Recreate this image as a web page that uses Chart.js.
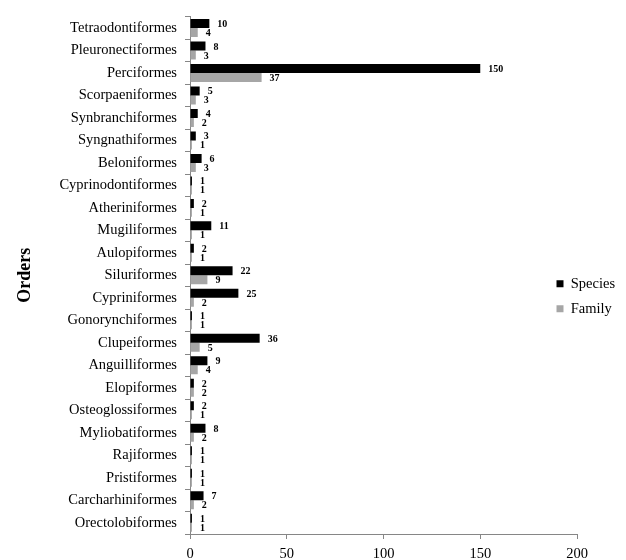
<!DOCTYPE html>
<html>
<head>
<meta charset="utf-8">
<script src="https://cdn.jsdelivr.net/npm/chart.js@4"></script>
<style>
  body { margin: 0; background: #fff; }
  #wrap { width: 626px; height: 560px; }
</style>
</head>
<body>
<div id="wrap"><canvas id="ordersChart"></canvas></div>
<script>
const orders = [
  "Tetraodontiformes", "Pleuronectiformes", "Perciformes", "Scorpaeniformes",
  "Synbranchiformes", "Syngnathiformes", "Beloniformes", "Cyprinodontiformes",
  "Atheriniformes", "Mugiliformes", "Aulopiformes", "Siluriformes",
  "Cypriniformes", "Gonorynchiformes", "Clupeiformes", "Anguilliformes",
  "Elopiformes", "Osteoglossiformes", "Myliobatiformes", "Rajiformes",
  "Pristiformes", "Carcharhiniformes", "Orectolobiformes",
];
const species = [10, 8, 150, 5, 4, 3, 6, 1, 2, 11, 2, 22, 25, 1, 36, 9, 2, 2, 8, 1, 1, 7, 1];
const family = [4, 3, 37, 3, 2, 1, 3, 1, 1, 1, 1, 9, 2, 1, 5, 4, 2, 1, 2, 1, 1, 2, 1];
const xTicks = [0, 50, 100, 150, 200];

const serif = "'Liberation Serif', 'Times New Roman', serif";
const axisGrey = "#868686";

// value labels at the end of each bar
const barLabels = {
  id: "barLabels",
  afterDatasetsDraw(chart) {
    const ctx = chart.ctx;
    ctx.save();
    ctx.font = "bold 10px " + serif;
    ctx.fillStyle = "#000";
    ctx.textAlign = "left";
    ctx.textBaseline = "middle";
    chart.data.datasets.forEach((ds, i) => {
      chart.getDatasetMeta(i).data.forEach((bar, j) => {
        ctx.fillText(ds.data[j], bar.x + 8, bar.y + 1);
      });
    });
    ctx.restore();
  },
};

// put the legend where the original had it (inside the right side)
const legendSpot = {
  id: "legendSpot",
  afterLayout(chart) {
    const lg = chart.legend;
    lg.left = 546;
    lg.right = 626;
    lg.top = 266;
    lg.bottom = 340;
  },
};

const ctx = document.getElementById("ordersChart").getContext("2d");
new Chart(ctx, {
  type: "bar",
  data: {
    labels: orders,
    datasets: [
      {
        label: "Species",
        data: species,
        backgroundColor: "#000000",
        borderWidth: 0,
      },
      {
        label: "Family",
        data: family,
        backgroundColor: "#a6a6a6",
        borderWidth: 0,
      },
    ],
  },
  options: {
    indexAxis: "y",
    responsive: true,
    maintainAspectRatio: false,
    animation: false,
    categoryPercentage: 0.8,
    barPercentage: 1.0,
    layout: { padding: { top: 11, right: 49, left: 0, bottom: 0 } },
    plugins: {
      tooltip: { enabled: false },
      legend: {
        position: "chartArea",
        align: "start",
        labels: {
          boxWidth: 7,
          boxHeight: 7,
          padding: 10.5,
          color: "#000",
          font: { family: serif, size: 14.5 },
        },
      },
    },
    scales: {
      x: {
        min: 0,
        max: 200,
        afterBuildTicks: (scale) => {
          scale.ticks = xTicks.map((v) => ({ value: v }));
        },
        afterFit: (scale) => {
          scale.height = 26;
        },
        grid: {
          drawOnChartArea: false,
          drawTicks: true,
          tickLength: 5,
          color: axisGrey,
        },
        border: { color: axisGrey },
        ticks: {
          color: "#000",
          padding: 6,
          font: { family: serif, size: 14.5 },
        },
      },
      y: {
        afterFit: (scale) => {
          scale.width = 190;
        },
        grid: {
          offset: true,
          drawOnChartArea: false,
          drawTicks: true,
          tickLength: 5,
          color: axisGrey,
        },
        border: { color: axisGrey },
        ticks: {
          color: "#000",
          padding: 8,
          autoSkip: false,
          font: { family: serif, size: 14.5 },
        },
        title: {
          display: true,
          text: "Orders",
          color: "#000",
          padding: { top: 15, bottom: 0 },
          font: { family: serif, size: 18, weight: "bold" },
        },
      },
    },
  },
  plugins: [barLabels, legendSpot],
});
</script>
</body>
</html>
